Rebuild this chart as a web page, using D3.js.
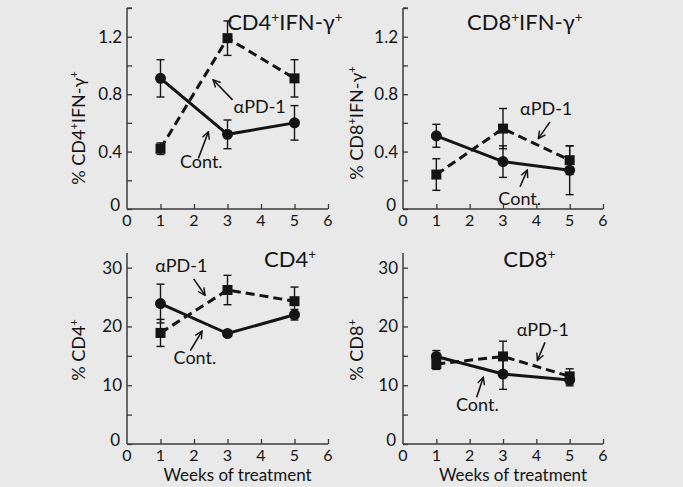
<!DOCTYPE html>
<html>
<head>
<meta charset="utf-8">
<script src="https://cdn.jsdelivr.net/npm/d3@7"></script>
<style>
  body { margin: 0; background: #e9e9e9; }
  svg { display: block; font-family: Lato, "Open Sans", sans-serif; }
</style>
</head>
<body>
<div id="chart"></div>
<script>
// Chart size
const width = 683;
const height = 487;

// Shared x values (weeks of treatment)
const weeks = [1, 3, 5];
const xTicks = [0, 1, 2, 3, 4, 5, 6];

// Top-left: % CD4+IFN-g+
const cd4IfnCont = [0.91, 0.52, 0.60];
const cd4IfnContErr = [0.13, 0.10, 0.12];
const cd4IfnPd1 = [0.42, 1.19, 0.91];
const cd4IfnPd1Err = [0.04, 0.12, 0.13];

// Top-right: % CD8+IFN-g+
const cd8IfnCont = [0.51, 0.33, 0.27];
const cd8IfnContErr = [0.08, 0.11, 0.17];
const cd8IfnPd1 = [0.24, 0.56, 0.34];
const cd8IfnPd1Err = [0.11, 0.14, 0.10];

// Bottom-left: % CD4+
const cd4Cont = [23.9, 18.8, 22.0];
const cd4ContErr = [3.3, 0.4, 0.9];
const cd4Pd1 = [18.9, 26.2, 24.3];
const cd4Pd1Err = [2.3, 2.5, 2.4];

// Bottom-right: % CD8+
const cd8Cont = [14.9, 11.9, 10.9];
const cd8ContErr = [1.0, 2.6, 1.0];
const cd8Pd1 = [13.6, 14.9, 11.5];
const cd8Pd1Err = [0.9, 2.6, 1.3];

// y tick sets
const ifnTicks = [0, 0.2, 0.4, 0.6, 0.8, 1.0, 1.2, 1.4];
const ifnLabels = [0, 0.4, 0.8, 1.2];
const pctTicks = [0, 5, 10, 15, 20, 25, 30];
const pctLabels = [0, 10, 20, 30];

// panel boxes (pixels) + text that goes with each
// "^+" means a superscript plus
const panels = [
  {left: 127, right: 328, top: 8, bottom: 209, ymax: 1.4,
   cont: cd4IfnCont, contErr: cd4IfnContErr, pd1: cd4IfnPd1, pd1Err: cd4IfnPd1Err,
   ticks: ifnTicks, labels: ifnLabels, fmt: d3.format(".1f"),
   title: "CD4^+IFN-γ^+", titleAt: [2.99, 1.245],
   ylabel: "% CD4^+IFN-γ^+", ylabelX: 85, ylabelY: 128,
   pdText: [3.18, 0.67], pdArrow: [[3.15, 0.76], [2.57, 0.90]],
   contText: [1.58, 0.283], contArrow: [[2.13, 0.352], [2.43, 0.538]],
   xtitle: false},
  {left: 403, right: 603, top: 8, bottom: 209, ymax: 1.4,
   cont: cd8IfnCont, contErr: cd8IfnContErr, pd1: cd8IfnPd1, pd1Err: cd8IfnPd1Err,
   ticks: ifnTicks, labels: ifnLabels, fmt: d3.format(".1f"),
   title: "CD8^+IFN-γ^+", titleAt: [1.92, 1.245],
   ylabel: "% CD8^+IFN-γ^+", ylabelX: 363, ylabelY: 123,
   pdText: [3.51, 0.654], pdArrow: [[4.41, 0.607], [4.06, 0.49]],
   contText: [2.86, 0.028], contArrow: [[3.51, 0.155], [3.73, 0.271]],
   xtitle: false},
  {left: 127, right: 328, top: 253, bottom: 444, ymax: 32.5,
   cont: cd4Cont, contErr: cd4ContErr, pd1: cd4Pd1, pd1Err: cd4Pd1Err,
   ticks: pctTicks, labels: pctLabels, fmt: d3.format("d"),
   title: "CD4^+", titleAt: [4.09, 30.1],
   ylabel: "% CD4^+", ylabelX: 85, ylabelY: 350,
   pdText: [0.84, 29.2], pdArrow: [[1.99, 28.1], [2.33, 25.3]],
   contText: [1.39, 13.6], contArrow: [[1.89, 15.9], [2.24, 19.2]],
   xtitle: true},
  {left: 403, right: 603, top: 253, bottom: 444, ymax: 32.5,
   cont: cd8Cont, contErr: cd8ContErr, pd1: cd8Pd1, pd1Err: cd8Pd1Err,
   ticks: pctTicks, labels: pctLabels, fmt: d3.format("d"),
   title: "CD8^+", titleAt: [3.01, 30.1],
   ylabel: "% CD8^+", ylabelX: 363, ylabelY: 350,
   pdText: [3.41, 18.45], pdArrow: [[4.26, 17.3], [4.03, 14.2]],
   contText: [1.59, 5.67], contArrow: [[2.21, 7.94], [2.41, 11.35]],
   xtitle: true}
];

const ink = "#141414";
const axisColor = "#3a3a3a";

const svg = d3.select("#chart")
  .append("svg")
  .attr("width", width)
  .attr("height", height);

// open arrow head
svg.append("defs").append("marker")
  .attr("id", "arrow")
  .attr("viewBox", "0 0 10 10")
  .attr("refX", 9).attr("refY", 5)
  .attr("markerWidth", 9).attr("markerHeight", 9)
  .attr("markerUnits", "userSpaceOnUse")
  .attr("orient", "auto")
  .append("path")
  .attr("d", "M1,1 L9,5 L1,9")
  .attr("fill", "none")
  .attr("stroke", ink)
  .attr("stroke-width", 1.6);

// writes text with "^+" turned into superscripts
function richText(sel, str, size) {
  sel.attr("font-size", size);
  let shift = 0;
  str.split(/(\^\+)/).filter(s => s.length).forEach(part => {
    if (part === "^+") {
      sel.append("tspan").attr("font-size", size * 0.62).attr("dy", -size * 0.38).text("+");
      shift = size * 0.38;
    } else {
      sel.append("tspan").attr("font-size", size).attr("dy", shift).text(part);
      shift = 0;
    }
  });
}

panels.forEach(p => {
  const x = d3.scaleLinear().domain([0, 6]).range([p.left, p.right]);
  const y = d3.scaleLinear().domain([0, p.ymax]).range([p.bottom, p.top]);
  const g = svg.append("g");

  // axes with inward ticks
  const yAxis = g.append("g")
    .attr("transform", `translate(${p.left},0)`)
    .call(d3.axisRight(y).tickValues(p.ticks).tickSize(5).tickFormat(""));
  const xAxis = g.append("g")
    .attr("transform", `translate(0,${p.bottom})`)
    .call(d3.axisTop(x).tickValues(xTicks.slice(1)).tickSize(5).tickFormat(""));
  [yAxis, xAxis].forEach(a => {
    a.select(".domain").attr("stroke", axisColor).attr("stroke-width", 1.5);
    a.selectAll(".tick line").attr("stroke", axisColor).attr("stroke-width", 1.3);
    a.selectAll(".tick text").remove();
  });
  // axis lines should not have end caps from d3
  yAxis.select(".domain").attr("d", `M0,${p.bottom}V${p.top}`);
  xAxis.select(".domain").attr("d", `M${p.left},0H${p.right}`);
  // top tick of the ifn panels
  if (p.ymax === 1.4) {
    yAxis.append("line").attr("x1", 0).attr("x2", 5)
      .attr("y1", y(p.ymax)).attr("y2", y(p.ymax))
      .attr("stroke", axisColor).attr("stroke-width", 1.3);
  }

  // tick labels
  g.selectAll(".ylab")
    .data(p.labels)
    .enter()
    .append("text")
    .attr("x", d => d === 0 ? p.left - 7 : p.left - 5)
    .attr("y", d => y(d) + (d === 0 ? 2 : 6))
    .attr("text-anchor", "end")
    .attr("font-size", 17)
    .attr("fill", ink)
    .text(d => d === 0 ? "0" : p.fmt(d));

  g.selectAll(".xlab")
    .data(xTicks)
    .enter()
    .append("text")
    .attr("x", d => x(d))
    .attr("y", p.bottom + 17)
    .attr("text-anchor", "middle")
    .attr("font-size", 16)
    .attr("fill", ink)
    .text(d => d);

  if (p.xtitle) {
    g.append("text")
      .attr("x", x(3.3))
      .attr("y", p.bottom + 37)
      .attr("text-anchor", "middle")
      .attr("font-size", 17)
      .attr("fill", ink)
      .text("Weeks of treatment");
  }

  // y title
  const yt = g.append("text")
    .attr("transform", `translate(${p.ylabelX},${p.ylabelY}) rotate(-90)`)
    .attr("text-anchor", "middle")
    .attr("fill", ink);
  richText(yt, p.ylabel, 18);

  // panel title
  const tt = g.append("text")
    .attr("x", x(p.titleAt[0]))
    .attr("y", y(p.titleAt[1]))
    .attr("fill", ink);
  richText(tt, p.title, 22);

  const series = [
    {vals: p.pd1, errs: p.pd1Err, dash: "9,5", shape: "square"},
    {vals: p.cont, errs: p.contErr, dash: null, shape: "circle"}
  ];

  series.forEach(s => {
    const pts = weeks.map((w, i) => ({w: w, v: s.vals[i], e: s.errs[i]}));

    // error bars
    const eb = g.append("g").attr("stroke", ink).attr("stroke-width", 1.4);
    eb.selectAll(".stem")
      .data(pts).enter().append("line")
      .attr("x1", d => x(d.w)).attr("x2", d => x(d.w))
      .attr("y1", d => y(d.v - d.e)).attr("y2", d => y(d.v + d.e));
    eb.selectAll(".capTop")
      .data(pts).enter().append("line")
      .attr("x1", d => x(d.w) - 4).attr("x2", d => x(d.w) + 4)
      .attr("y1", d => y(d.v + d.e)).attr("y2", d => y(d.v + d.e));
    eb.selectAll(".capBot")
      .data(pts).enter().append("line")
      .attr("x1", d => x(d.w) - 4).attr("x2", d => x(d.w) + 4)
      .attr("y1", d => y(d.v - d.e)).attr("y2", d => y(d.v - d.e));

    // line
    g.append("path")
      .datum(pts)
      .attr("fill", "none")
      .attr("stroke", ink)
      .attr("stroke-width", 3)
      .attr("stroke-dasharray", s.dash)
      .attr("d", d3.line().x(d => x(d.w)).y(d => y(d.v)));

    // markers
    if (s.shape === "circle") {
      g.selectAll(".dot")
        .data(pts).enter().append("circle")
        .attr("cx", d => x(d.w)).attr("cy", d => y(d.v))
        .attr("r", 5.5).attr("fill", ink);
    } else {
      g.selectAll(".sq")
        .data(pts).enter().append("rect")
        .attr("x", d => x(d.w) - 5).attr("y", d => y(d.v) - 5)
        .attr("width", 10).attr("height", 10).attr("fill", ink);
    }
  });

  // annotations
  g.append("text")
    .attr("x", x(p.pdText[0])).attr("y", y(p.pdText[1]))
    .attr("font-size", 18).attr("fill", ink)
    .text("αPD-1");
  g.append("text")
    .attr("x", x(p.contText[0])).attr("y", y(p.contText[1]))
    .attr("font-size", 18).attr("fill", ink)
    .text("Cont.");
  [p.pdArrow, p.contArrow].forEach(a => {
    g.append("line")
      .attr("x1", x(a[0][0])).attr("y1", y(a[0][1]))
      .attr("x2", x(a[1][0])).attr("y2", y(a[1][1]))
      .attr("stroke", ink).attr("stroke-width", 1.6)
      .attr("marker-end", "url(#arrow)");
  });
});
</script>
</body>
</html>
